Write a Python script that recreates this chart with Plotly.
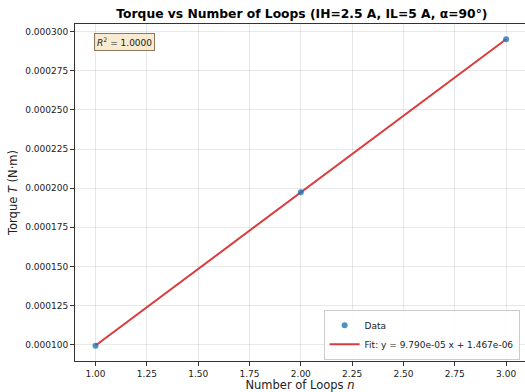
import numpy as np
import plotly.graph_objects as go

loops = [1, 2, 3]
torque = [9.93e-05, 1.974e-04, 2.951e-04]

slope, intercept = np.polyfit(loops, torque, 1)
fit_y = [slope * x + intercept for x in loops]
pred = np.array(fit_y)
ss_res = np.sum((np.array(torque) - pred) ** 2)
ss_tot = np.sum((np.array(torque) - np.mean(torque)) ** 2)
r2 = 1 - ss_res / ss_tot

FONT = "DejaVu Sans"
fig = go.Figure()
fig.add_trace(go.Scatter(
    x=loops, y=fit_y, mode="lines", name=f"Fit: y = {slope:.3e} x + {intercept:.3e}",
    line=dict(color="#d62728", width=2), opacity=0.9,
))
fig.add_trace(go.Scatter(
    x=loops, y=torque, mode="markers", name="Data",
    marker=dict(color="#1f77b4", size=6, opacity=0.8),
))

fig.update_layout(
    width=525, height=392,
    margin=dict(l=75, r=0, t=24, b=31),
    paper_bgcolor="white", plot_bgcolor="white",
    font=dict(family=FONT, size=9, color="#222"),
    title=dict(text="<b>Torque vs Number of Loops (IH=2.5 A, IL=5 A, α=90°)</b>",
               x=0.575, xanchor="center", y=0.965, yanchor="middle",
               font=dict(size=12.3, color="black")),
    showlegend=True,
    legend=dict(x=0.988, y=0.004, xanchor="right", yanchor="bottom",
                bgcolor="rgba(255,255,255,0.85)", bordercolor="#cccccc", borderwidth=1,
                font=dict(size=9, color="#222"), traceorder="reversed",
                itemwidth=30, tracegroupgap=0),
)
fig.update_xaxes(
    range=[0.9, 3.092], tick0=1.0, dtick=0.25, tickformat=".2f",
    showgrid=True, gridcolor="rgba(0,0,0,0.09)", gridwidth=1,
    showline=True, linecolor="#333", linewidth=1, mirror=True,
    ticks="outside", ticklen=4, tickcolor="#333", zeroline=False,
    title=dict(text="Number of Loops <i>n</i>", font=dict(size=11.5), standoff=3),
)
fig.update_yaxes(
    range=[8.95e-05, 3.049e-04], tick0=0.0001, dtick=0.000025, tickformat=".6f",
    showgrid=True, gridcolor="rgba(0,0,0,0.09)", gridwidth=1,
    showline=True, linecolor="#333", linewidth=1,
    ticks="outside", ticklen=4, tickcolor="#333", zeroline=False,
    title=dict(text="Torque <i>T</i> (N·m)", font=dict(size=11.5), standoff=5),
)
fig.add_annotation(
    xref="paper", yref="paper", x=0.043, y=0.972, xanchor="left", yanchor="top",
    text=f"<i>R</i><sup>2</sup> = {r2:.4f}", showarrow=False,
    font=dict(size=9, color="#222"),
    bgcolor="rgba(245,222,179,0.6)", bordercolor="#8a7a5a", borderwidth=1, borderpad=2,
)
fig.write_html("out.html")
